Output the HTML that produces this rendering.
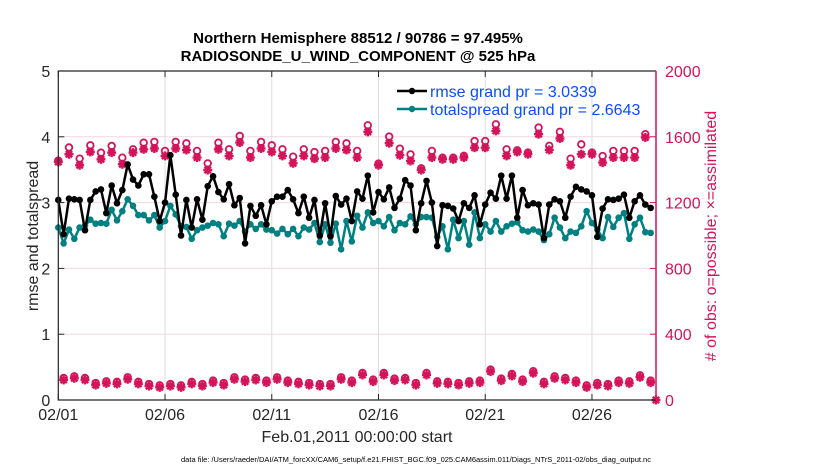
<!DOCTYPE html>
<html><head><meta charset="utf-8"><style>
body{margin:0;background:#fff;}
svg{display:block;font-family:"Liberation Sans",sans-serif;}
</style></head><body>
<svg id="chart" width="830" height="470" viewBox="0 0 830 470">
<g id="grid"></g><g id="marks"></g><g id="axes"></g>
<text x="358" y="43" text-anchor="middle" font-size="15" font-weight="bold">Northern Hemisphere 88512 / 90786 = 97.495%</text>
<text x="358" y="61" text-anchor="middle" font-size="15" font-weight="bold">RADIOSONDE_U_WIND_COMPONENT @ 525 hPa</text>
<text transform="translate(38,236) rotate(-90)" text-anchor="middle" font-size="16" fill="#262626">rmse and totalspread</text>
<text transform="translate(716,236) rotate(-90)" text-anchor="middle" font-size="16" fill="#d4145a"># of obs: o=possible; ×=assimilated</text>
<text x="357" y="442" text-anchor="middle" font-size="16" fill="#262626">Feb.01,2011 00:00:00 start</text>
<text x="416" y="462" text-anchor="middle" font-size="7.5" fill="#000">data file: /Users/raeder/DAI/ATM_forcXX/CAM6_setup/f.e21.FHIST_BGC.f09_025.CAM6assim.011/Diags_NTrS_2011-02/obs_diag_output.nc</text>
<g>
<line x1="397" y1="91" x2="427" y2="91" stroke="#000" stroke-width="2.5"/>
<circle cx="412" cy="91" r="3.2" fill="#000"/>
<text x="430" y="97" font-size="16" fill="#0a4dff">rmse grand pr = 3.0339</text>
<line x1="397" y1="109" x2="427" y2="109" stroke="#008080" stroke-width="2.5"/>
<circle cx="412" cy="109" r="3.2" fill="#008080"/>
<text x="430" y="115" font-size="16" fill="#0a4dff">totalspread grand pr = 2.6643</text>
</g>
</svg>
<script>
const xTickLabels = ["02/01","02/06","02/11","02/16","02/21","02/26"];
const xTickDays = [0,5,10,15,20,25];
const yLeftTicks = [0,1,2,3,4,5];
const yRightTicks = [0,400,800,1200,1600,2000];
const rmse = [3.04,2.52,3.06,3.05,3.04,2.58,3.04,3.17,3.2,2.84,3.26,2.99,3.19,3.58,3.35,3.26,3.43,3.43,3.09,2.72,3.0,3.72,3.12,2.5,3.04,2.62,3.05,2.74,3.25,3.4,3.16,3.05,3.28,2.96,3.07,2.38,2.95,2.8,2.96,2.67,3.02,3.09,3.09,3.19,3.05,2.84,3.09,2.77,3.04,2.5,2.99,2.49,3.1,2.97,3.06,2.72,3.17,
3.06,3.41,2.85,3.16,3.05,3.23,2.92,3.06,3.34,3.26,2.58,2.99,3.33,3.0,2.34,2.96,2.95,2.91,2.72,2.99,2.92,3.11,2.67,2.97,3.15,3.06,3.41,3.06,3.41,2.77,3.19,2.96,2.99,2.97,2.46,2.97,3.05,3.02,2.77,3.09,3.24,3.2,3.17,3.11,2.48,2.91,3.05,3.04,3.06,3.12,2.77,3.02,3.11,2.97,2.92];
const spread = [2.62,2.38,2.59,2.45,2.62,2.65,2.74,2.68,2.69,2.68,2.89,2.73,2.87,3.05,2.95,2.81,2.81,2.73,2.81,2.62,2.72,2.95,2.82,2.64,2.63,2.45,2.58,2.62,2.65,2.69,2.67,2.49,2.68,2.65,2.72,2.56,2.67,2.6,2.67,2.59,2.58,2.53,2.6,2.52,2.6,2.49,2.62,2.59,2.69,2.4,2.67,2.39,2.68,2.29,2.72,2.41,2.8,
2.62,2.85,2.69,2.72,2.64,2.78,2.58,2.69,2.67,2.79,2.67,2.78,2.78,2.77,2.48,2.64,2.29,2.74,2.46,2.72,2.36,2.85,2.46,2.67,2.56,2.72,2.56,2.64,2.68,2.7,2.58,2.56,2.59,2.56,2.43,2.52,2.77,2.62,2.46,2.56,2.54,2.64,2.87,2.69,2.59,2.46,2.78,2.63,2.77,2.84,2.45,2.67,2.77,2.55,2.54];
const assimTop = [1447,1494,1427,1508,1463,1504,1433,1504,1524,1529,1484,1529,1520,1474,1398,1524,1484,1565,1474,1529,1508,1484,1439,1484,1467,1474,1529,1520,1474,
1630,1427,1561,1488,1453,1398,1474,1463,1463,1474,1534,1534,1636,1484,1508,1494,1616,1520,1590,1427,1494,1494,1443,1474,1474,1474,1596];
const possTop = [1455,1535,1467,1548,1503,1544,1473,1524,1564,1569,1514,1569,1560,1514,1438,1564,1524,1605,1514,1569,1548,1524,1479,1524,1507,1514,1569,1560,1514,
1670,1437,1601,1528,1493,1408,1514,1473,1473,1484,1574,1574,1676,1524,1518,1504,1656,1545,1630,1467,1554,1504,1483,1514,1514,1514,1616];
const obsBottom = [122,132,122,91,101,98,126,98,85,77,85,77,98,85,106,91,126,112,122,106,126,106,98,91,85,85,126,106,
152,112,152,118,122,91,152,101,98,91,101,106,173,118,146,112,163,98,132,122,106,77,91,85,106,101,138,106];

const X0=58.3, X1=656, T1=28, Y0=400, Y1=71;
const xs = d => X0 + d*(X1-X0)/T1;
const yl = v => Y0 - v*(Y0-Y1)/5;
const yr = v => Y0 - v*(Y0-Y1)/2000;
const NS="http://www.w3.org/2000/svg";
const PINK="#d4145a", TEAL="#008080";
function mk(parent,tag,attrs){const e=document.createElementNS(NS,tag);for(const k in attrs)e.setAttribute(k,attrs[k]);parent.appendChild(e);return e;}
const grid=document.getElementById('grid'), marks=document.getElementById('marks'), axes=document.getElementById('axes');

xTickDays.forEach((d,i)=>{
  const g=mk(grid,'line',{x1:xs(d),x2:xs(d),y1:Y1,y2:Y0,stroke:'#dcdcdc','stroke-width':1});
  
  
  const t=mk(axes,'text',{x:xs(d),y:Y0+20,'text-anchor':'middle','font-size':16,fill:'#262626'});
  t.textContent=xTickLabels[i];
  
  
  mk(axes,'line',{x1:xs(d),x2:xs(d),y1:Y0,y2:Y0-6,stroke:'#262626','stroke-width':1});
  mk(axes,'line',{x1:xs(d),x2:xs(d),y1:Y1,y2:Y1+6,stroke:'#262626','stroke-width':1});
});
yLeftTicks.forEach(v=>{
  if(v>0&&v<5){const g=mk(grid,'line',{x1:X0,x2:X1,y1:yl(v),y2:yl(v),stroke:'#f0d8e0','stroke-width':1});
  
  }
  const t=mk(axes,'text',{x:X0-8,y:yl(v)+6,'text-anchor':'end','font-size':16,fill:'#262626'});
  t.textContent=v;
  
  
  mk(axes,'line',{x1:X0,x2:X0+6,y1:yl(v),y2:yl(v),stroke:'#262626','stroke-width':1});
});
yRightTicks.forEach(v=>{
  const t=mk(axes,'text',{x:X1+9,y:yr(v)+6,'font-size':16,fill:PINK});
  t.textContent=v;
  
  
  mk(axes,'line',{x1:X1,x2:X1-6,y1:yr(v),y2:yr(v),stroke:PINK,'stroke-width':1});
});
const fr=mk(axes,'path',{d:`M${X1},${Y1}H${X0}V${Y0}H${X1}`,fill:'none',stroke:'#262626','stroke-width':1.2});


const ra=mk(axes,'line',{x1:X1,x2:X1,y1:Y1,y2:Y0,stroke:PINK,'stroke-width':1.5});



function star(x,y,name){
  const g=mk(marks,'g',{stroke:PINK,'stroke-width':2.4});
  
  
  const r=4.5,q=3.2;
  mk(g,'line',{x1:x-r,x2:x+r,y1:y,y2:y});mk(g,'line',{x1:x,x2:x,y1:y-r,y2:y+r});
  mk(g,'line',{x1:x-q,x2:x+q,y1:y-q,y2:y+q});mk(g,'line',{x1:x-q,x2:x+q,y1:y+q,y2:y-q});
}
function ring(x,y,name){
  const c=mk(marks,'circle',{cx:x,cy:y,r:3.3,fill:'none',stroke:PINK,'stroke-width':1.8});
  
  
}
possTop.forEach((v,i)=>ring(xs(i*0.5),yr(v),'possible-obs-marker'));
assimTop.forEach((v,i)=>star(xs(i*0.5),yr(v),'assimilated-obs-marker'));
obsBottom.forEach((v,i)=>{ring(xs(0.25+i*0.5),yr(v)-2,'possible-obs-low-marker');star(xs(0.25+i*0.5),yr(v),'assimilated-obs-low-marker');});
star(xs(T1),yr(0),'assimilated-obs-end-marker');

function series(vals,color,name){
  const p=vals.map((v,i)=>`${i?'L':'M'}${xs(i*0.25).toFixed(2)},${yl(v).toFixed(2)}`).join('');
  const l=mk(marks,'path',{d:p,fill:'none',stroke:color,'stroke-width':2.5,'stroke-linejoin':'round'});
  
  
  vals.forEach((v,i)=>{
    const c=mk(marks,'circle',{cx:xs(i*0.25),cy:yl(v),r:3.3,fill:color});
    
    
  });
}
series(spread,TEAL,'totalspread');
series(rmse,'#000','rmse');
</script>
</body></html>
